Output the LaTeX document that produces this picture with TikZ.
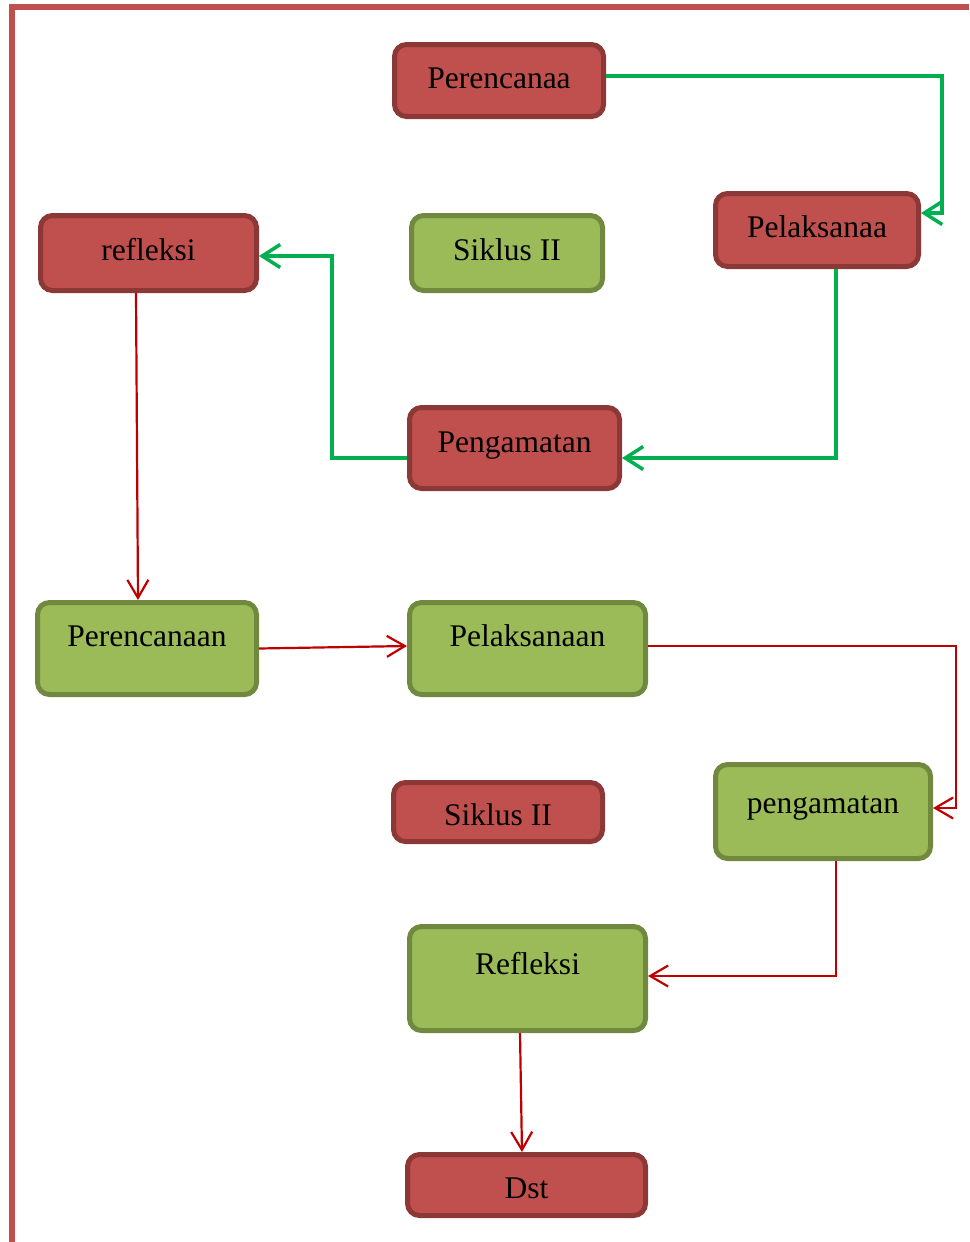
\documentclass[tikz,border=0pt]{standalone}
\usepackage{fontspec}
\setmainfont{Liberation Serif}
\usepackage{xcolor}
\usepackage{tikz}
\usetikzlibrary{arrows.meta}

\definecolor{kotakmerah}{HTML}{C0504D}
\definecolor{tepimerah}{HTML}{8C3836}
\definecolor{kotakhijau}{HTML}{9BBB59}
\definecolor{tepihijau}{HTML}{71893F}
\definecolor{garishijau}{HTML}{00B050}
\definecolor{garismerah}{HTML}{C00000}

\begin{document}
\begin{tikzpicture}[x=1pt, y=-1pt,
  kotak/.style={rectangle, rounded corners=12pt, line width=5pt, inner sep=0pt,
    text height=30pt, font=\fontsize{31.5}{36}\selectfont},
  merah/.style={kotak, fill=kotakmerah, draw=tepimerah},
  hijau/.style={kotak, fill=kotakhijau, draw=tepihijau},
  panahhijau/.style={draw=garishijau, line width=3.5pt, -{Straight Barb[length=18pt,width=23pt]}},
  panahmerah/.style={draw=garismerah, line width=2.2pt, -{Straight Barb[length=18pt,width=21pt]}}]
\useasboundingbox (0,0) rectangle (969,1242);
\draw[kotakmerah, line width=6pt] (12,1242) -- (12,6.5) -- (969,6.5);

% siklus pertama
\node[merah, minimum width=209pt, minimum height=72pt, text depth=14.4pt] (perencanaa) at (499,80.5) {Perencanaa};
\node[merah, minimum width=203pt, minimum height=73pt, text depth=15.4pt] (pelaksanaa) at (817,230) {Pelaksanaa};
\node[merah, minimum width=216pt, minimum height=75pt, text depth=16pt] (refleksi) at (148.5,253) {refleksi};
\node[hijau, minimum width=191pt, minimum height=75pt, text depth=16pt] (siklus1) at (507,253) {Siklus II};
\node[merah, minimum width=210pt, minimum height=81pt, text depth=22pt] (pengamatan) at (514.5,448) {Pengamatan};

% siklus kedua
\node[hijau, minimum width=219pt, minimum height=92pt, text depth=33.6pt] (perencanaan2) at (147,648.5) {Perencanaan};
\node[hijau, minimum width=236pt, minimum height=92pt, text depth=33.6pt] (pelaksanaan2) at (527.5,648.5) {Pelaksanaan};
\node[merah, minimum width=209pt, minimum height=59pt, text depth=4pt] (siklus2) at (498,812) {Siklus II};
\node[hijau, minimum width=215pt, minimum height=94pt, text depth=27pt] (pengamatan2) at (823,811.5) {pengamatan};
\node[hijau, minimum width=236pt, minimum height=104pt, text depth=39pt] (refleksi2) at (527.5,978.5) {Refleksi};
\node[merah, minimum width=238pt, minimum height=61pt, text depth=4pt] (dst) at (526.5,1185) {Dst};

% panah hijau
\draw[panahhijau] ([yshift=4.5pt]perencanaa.east) -- (942,76) |- ([yshift=17pt]pelaksanaa.east);
\draw[panahhijau] ([xshift=19pt]pelaksanaa.south) |- ([yshift=-10pt]pengamatan.east);
\draw[panahhijau] ([yshift=-10pt]pengamatan.west) -- (332,458) |- ([yshift=-3pt]refleksi.east);

% panah merah
\draw[panahmerah] ([xshift=-12.5pt]refleksi.south) -- ([xshift=-9pt]perencanaan2.north);
\draw[panahmerah] (perencanaan2.east) -- ([yshift=2.5pt]pelaksanaan2.west);
\draw[panahmerah] ([yshift=2.5pt]pelaksanaan2.east) -- (956,646) |- ([yshift=3.5pt]pengamatan2.east);
\draw[panahmerah] ([xshift=13pt]pengamatan2.south) |- ([yshift=2.5pt]refleksi2.east);
\draw[panahmerah] ([xshift=-7.5pt]refleksi2.south) -- ([xshift=-4.5pt]dst.north);
\end{tikzpicture}
\end{document}
